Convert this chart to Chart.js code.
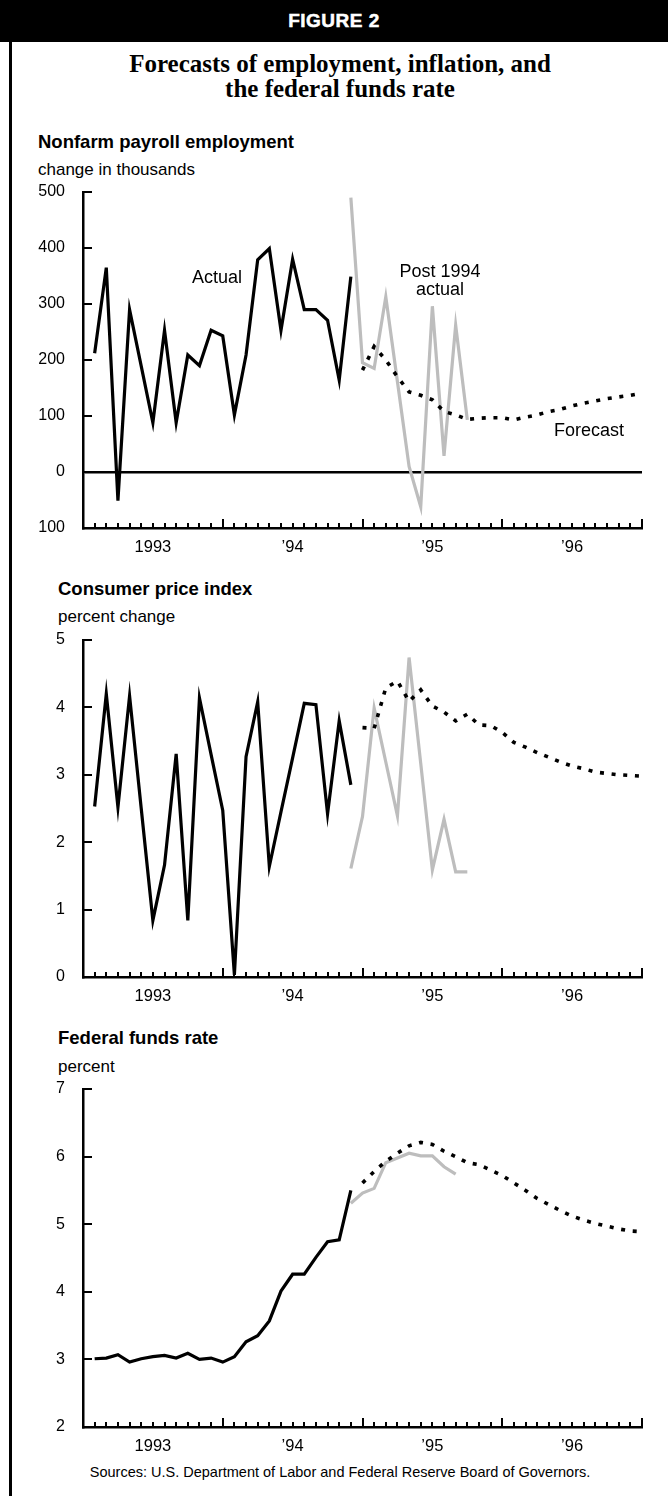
<!DOCTYPE html>
<html>
<head>
<meta charset="utf-8">
<script src="https://cdn.jsdelivr.net/npm/chart.js@4.4.1/dist/chart.umd.min.js"></script>
<style>
  body { margin:0; background:#fff; width:668px; height:1496px; position:relative; overflow:hidden;
         font-family:"Liberation Sans", Arial, sans-serif; color:#000; }
  .abs { position:absolute; white-space:nowrap; }
  #header { left:0; top:0; width:668px; height:42px; background:#000; color:#fff; font-weight:bold;
            font-size:19px; text-align:center; line-height:42px; letter-spacing:0.5px; -webkit-text-stroke:0.5px #fff; }
  #frame { left:9px; top:42px; width:3px; height:1454px; background:#000; }
  #title { left:12px; width:656px; top:51px; text-align:center; font-family:"Liberation Serif", "Times New Roman", serif;
           font-weight:bold; font-size:25px; line-height:25px; }
  .sub { font-weight:bold; font-size:18.5px; line-height:18px; }
  .unit { font-size:17px; line-height:17px; }
  .note { font-size:18px; line-height:18px; }
  canvas { position:absolute; left:0; }
</style>
</head>
<body>
<div id="header" class="abs">FIGURE 2</div>
<div id="frame" class="abs"></div>
<div id="title" class="abs">Forecasts of employment, inflation, and<br>the federal funds rate</div>

<div class="abs sub" style="left:38px; top:133px;">Nonfarm payroll employment</div>
<div class="abs unit" style="left:38px; top:161px;">change in thousands</div>
<canvas id="emp" width="668" height="384" style="top:178px;"></canvas>
<div class="abs note" style="left:192px; top:268px;">Actual</div>
<div class="abs note" style="left:390px; top:262px; width:100px; text-align:center;">Post 1994<br>actual</div>
<div class="abs note" style="left:554px; top:421px;">Forecast</div>

<div class="abs sub" style="left:58px; top:580px;">Consumer price index</div>
<div class="abs unit" style="left:58px; top:608px;">percent change</div>
<canvas id="cpi" width="668" height="385" style="top:626px;"></canvas>

<div class="abs sub" style="left:58px; top:1029px;">Federal funds rate</div>
<div class="abs unit" style="left:58px; top:1058px;">percent</div>
<canvas id="ffr" width="668" height="386" style="top:1075px;"></canvas>

<div class="abs" style="left:12px; width:656px; top:1464px; text-align:center; font-size:14.5px;">Sources: U.S. Department of Labor and Federal Reserve Board of Governors.</div>

<script>
// month index: 0 = start of 1993, 48 = end of 1996
const ACTUAL_START = 1;
const POST_START = 23;
const FORECAST_START = 24;
const yearLabels = ['1993', '\u201994', '\u201995', '\u201996'];
const yearCenters = [6, 18, 30, 42];

// Nonfarm payroll employment, change in thousands
const empActual = [212, 365, -51, 290, 189, 88, 253, 88, 209, 190, 253, 243, 102, 209, 379, 399, 253, 380, 290, 290, 271, 164, 349];
const empPost = [490, 195, 185, 313, 161, 10, -62, 296, 29, 262, 93];
const empForecast = [182, 224, 200, 170, 143, 137, 129, 108, 102, 94, 96, 97, 97, 93, 98, 102, 108, 112, 118, 123, 127, 131, 134, 137, 141];

// Consumer price index, percent change
const cpiActual = [2.53, 4.2, 2.52, 4.17, 2.5, 0.84, 1.66, 3.31, 0.84, 4.14, 3.3, 2.47, 0.03, 3.27, 4.08, 1.64, 2.45, 3.25, 4.06, 4.04, 2.42, 3.8, 2.85];
const cpiPost = [1.61, 2.38, 3.99, 3.19, 2.39, 4.74, 3.17, 1.59, 2.34, 1.56, 1.56];
const cpiForecast = [3.7, 3.69, 4.29, 4.39, 4.09, 4.26, 4.02, 3.93, 3.8, 3.9, 3.74, 3.73, 3.63, 3.48, 3.41, 3.33, 3.26, 3.19, 3.13, 3.09, 3.04, 3.02, 3.0, 2.99, 2.98];

// Federal funds rate, percent
const ffrActual = [3.01, 3.02, 3.07, 2.96, 3.01, 3.04, 3.06, 3.02, 3.09, 3.0, 3.02, 2.96, 3.04, 3.26, 3.35, 3.57, 4.01, 4.26, 4.26, 4.51, 4.74, 4.77, 5.5];
const ffrPost = [5.31, 5.46, 5.53, 5.91, 5.98, 6.05, 6.01, 6.01, 5.85, 5.74];
const ffrForecast = [5.61, 5.78, 5.93, 6.05, 6.16, 6.21, 6.18, 6.08, 6.0, 5.91, 5.88, 5.8, 5.72, 5.61, 5.5, 5.38, 5.29, 5.2, 5.12, 5.06, 5.01, 4.97, 4.93, 4.9, 4.89];

const FONT = '"Liberation Sans", Arial, sans-serif';

const pts = (start, vals) => vals.map((v, i) => ({ x: start + i, y: v }));

// small tick marks drawn inside the axes
const tickMarks = {
    id: 'tickMarks',
    afterDraw(chart) {
        const { ctx, scales: { x, y }, chartArea: a } = chart;
        ctx.save();
        ctx.strokeStyle = '#000';
        ctx.lineWidth = 2;
        ctx.beginPath();
        for (let m = 1; m <= 48; m++) {
            const px = Math.round(x.getPixelForValue(m));
            const len = m % 12 === 0 ? 9 : 5;
            ctx.moveTo(px, a.bottom);
            ctx.lineTo(px, a.bottom - len);
        }
        y.ticks.forEach(t => {
            const py = Math.round(y.getPixelForValue(t.value));
            if (py >= a.bottom - 1) return;
            ctx.moveTo(a.left, py);
            ctx.lineTo(a.left + 9, py);
        });
        ctx.stroke();
        ctx.restore();
    }
};

function makeChart(id, actual, post, forecast, yMin, yMax, step, zeroLine, label) {
    return new Chart(document.getElementById(id), {
        type: 'line',
        data: {
            datasets: [
                { data: pts(ACTUAL_START, actual), borderColor: '#000', borderWidth: 3.2 },
                { data: pts(FORECAST_START, forecast), borderColor: '#000', borderWidth: 3.6, borderDash: [4, 7.7] },
                { data: pts(POST_START, post), borderColor: '#bdbdbd', borderWidth: 3.2 }
            ]
        },
        options: {
            responsive: false,
            animation: false,
            devicePixelRatio: 1,
            layout: { padding: { top: 14, right: 26, left: 0, bottom: 0 } },
            plugins: { legend: { display: false }, tooltip: { enabled: false } },
            elements: {
                point: { radius: 0 },
                line: { tension: 0, borderJoinStyle: 'miter', borderCapStyle: 'butt', fill: false }
            },
            datasets: { line: { clip: false } },
            scales: {
                x: {
                    type: 'linear', min: 0, max: 48,
                    grid: { display: false, drawTicks: false },
                    border: { display: true, color: '#000', width: 2.5 },
                    afterBuildTicks: s => { s.ticks = yearCenters.map(v => ({ value: v })); },
                    afterFit: s => { s.height = 34; s.paddingLeft = 0; s.paddingRight = 0; },
                    ticks: {
                        padding: 10, maxRotation: 0, autoSkip: false, color: '#000',
                        font: { size: 16.5, family: FONT },
                        callback: v => yearLabels[yearCenters.indexOf(v)]
                    }
                },
                y: {
                    min: yMin, max: yMax,
                    grid: {
                        display: zeroLine, drawTicks: false,
                        color: c => (c.tick && c.tick.value === 0) ? '#000' : 'rgba(0,0,0,0)',
                        lineWidth: 2.5
                    },
                    border: { display: true, color: '#000', width: 2.5 },
                    afterFit: s => { s.width = 83; s.paddingTop = 0; s.paddingBottom = 0; },
                    ticks: {
                        stepSize: step, padding: 18, color: '#000',
                        font: { size: 16, family: FONT },
                        callback: label
                    }
                }
            }
        },
        plugins: [tickMarks]
    });
}

makeChart('emp', empActual, empPost, empForecast, -100, 500, 100, true, v => String(Math.abs(v)));
makeChart('cpi', cpiActual, cpiPost, cpiForecast, 0, 5, 1, false, v => String(v));
makeChart('ffr', ffrActual, ffrPost, ffrForecast, 2, 7, 1, false, v => String(v));
</script>
</body>
</html>
